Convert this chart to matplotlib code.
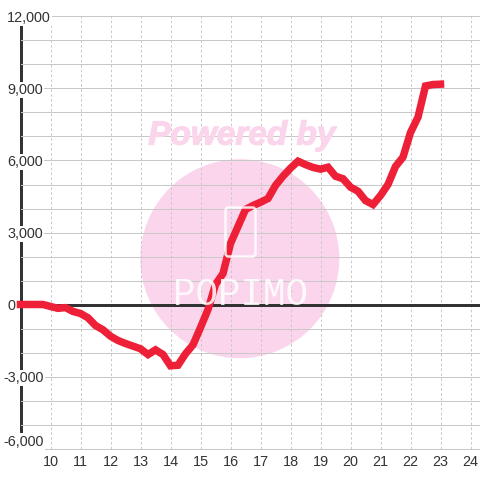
import matplotlib
matplotlib.use("Agg")
import matplotlib.pyplot as plt
import matplotlib.patheffects as pe
from matplotlib.patches import Circle, FancyBboxPatch
from matplotlib.ticker import MultipleLocator, FuncFormatter
from matplotlib.transforms import IdentityTransform

hours = [9 + 0.25 * i for i in range(57)]
values = [0, 0, 0, 0, -83, -160, -130, -290, -375, -555, -875, -1055, -1320, -1500,
          -1625, -1735, -1845, -2085, -1890, -2085, -2555, -2530, -2055, -1680, -960,
          -210, 835, 1290, 2540, 3250, 3960, 4125, 4260, 4415, 4960, 5345, 5680, 5970,
          5830, 5710, 5640, 5720, 5345, 5240, 4890, 4720, 4330, 4165, 4540, 5000, 5750,
          6140, 7165, 7805, 9105, 9165, 9180]
x_ticks = list(range(10, 25))

TEXT = "#333333"
GRID = "#c8c8c8"
PINK = "#fbd5ec"
RED = "#ee2038"
PX = 72 / 100

plt.rcParams["font.family"] = ["Liberation Sans", "DejaVu Sans"]
fig = plt.figure(figsize=(4.8, 4.8), dpi=100, facecolor="white")

# watermark in pixel space (y measured from the bottom of the canvas)
T = IdentityTransform()
fig.add_artist(Circle((239.8, 480 - 258.7), 99.5, transform=T, fc=PINK, ec="none", zorder=0))
fig.add_artist(FancyBboxPatch((225.5, 480 - 256.5), 30, 49, boxstyle="round,pad=0,rounding_size=3",
                              transform=T, fc="none", ec="white", lw=2.5 * PX, alpha=0.85, zorder=0.1))
fig.text(242, 480 - 144.5, "Powered by", transform=T, ha="center", va="baseline", fontsize=24,
         fontweight="bold", fontstyle="italic", color=PINK, zorder=0,
         path_effects=[pe.withStroke(linewidth=1.2 * PX, foreground=PINK)])
fig.text(240, 480 - 305, "POPIMO", transform=T, ha="center", va="baseline", fontsize=27,
         family=["Liberation Mono", "DejaVu Sans Mono"], color="white", alpha=0.85, zorder=0.1)

ax = fig.add_axes([20.5 / 480, 31.5 / 480, 459.5 / 480, 432 / 480])
ax.patch.set_visible(False)
ax.set_xlim(9, 9 + 459.5 / 30)
ax.set_ylim(-6000, 12000)

ax.xaxis.set_ticks(x_ticks)
ax.yaxis.set_major_locator(MultipleLocator(3000))
ax.yaxis.set_minor_locator(MultipleLocator(1000))
ax.yaxis.set_major_formatter(FuncFormatter(lambda v, _: f"{int(v):,}"))

ax.grid(True, axis="y", which="both", color=GRID, lw=1 * PX, clip_on=False)
ax.grid(True, axis="x", which="major", color=GRID, lw=1 * PX, ls=(0, (2.5, 2.4)), clip_on=False)
ax.tick_params(axis="both", which="both", length=0)
ax.tick_params(axis="y", pad=9.6, labelsize=10.4, labelcolor=TEXT)
ax.tick_params(axis="x", pad=4.5, labelsize=10.4, labelcolor=TEXT)

for s in ("top", "right", "bottom"):
    ax.spines[s].set_visible(False)
ax.spines["left"].set_linewidth(3 * PX)
ax.spines["left"].set_color(TEXT)
ax.spines["left"].set_zorder(1.0)
ax.spines["left"].set_capstyle("butt")

fig.canvas.draw()
for tick in ax.yaxis.get_major_ticks():
    lab = tick.label1
    lab.set_ha("left")
    lab.set_bbox(dict(fc="white", ec="none", pad=1))
    if lab.get_text().startswith("-"):
        tick.set_pad(12.4)
    if lab.get_text() == "-6,000":
        lab.set_va("bottom")

ax.axhline(0, color=TEXT, lw=3 * PX, zorder=1.6, clip_on=False)
ax.plot(hours, values, color=RED, lw=7.5 * PX, solid_capstyle="projecting",
        solid_joinstyle="miter", zorder=5, clip_on=False)

fig.savefig("out.png", dpi=100, facecolor="white")
